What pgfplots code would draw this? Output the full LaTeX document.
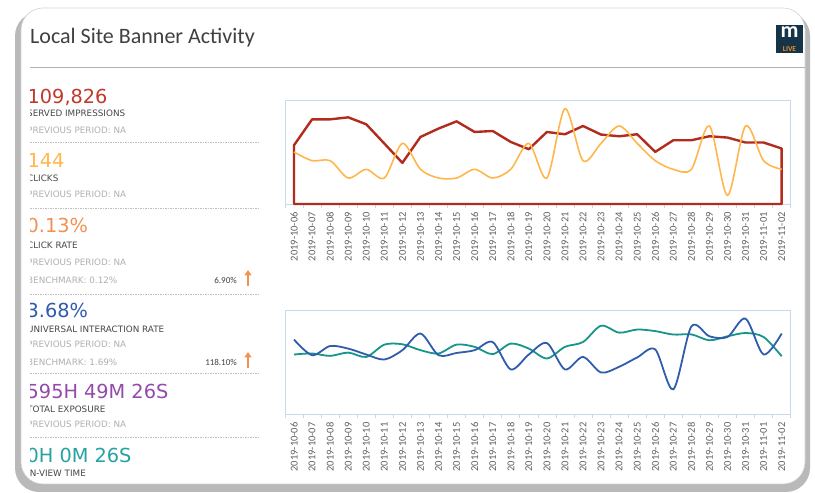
\documentclass[border=0pt]{standalone}
\usepackage{fontspec}
\setmainfont{Carlito}
\newfontfamily\numfont{DejaVu Sans}
\usepackage{pgfplots}
\pgfplotsset{compat=1.18}
\usetikzlibrary{arrows.meta}

\definecolor{impcol}{RGB}{178,44,30}
\definecolor{imptxt}{RGB}{192,57,43}
\definecolor{clkcol}{RGB}{255,183,77}
\definecolor{ratecol}{RGB}{242,145,80}
\definecolor{bluecol}{RGB}{47,92,172}
\definecolor{tealcol}{RGB}{22,150,138}
\definecolor{tealtxt}{RGB}{38,162,160}
\definecolor{purpcol}{RGB}{148,74,170}
\definecolor{labcol}{RGB}{70,70,70}
\definecolor{prevcol}{RGB}{176,176,176}
\definecolor{framecol}{RGB}{198,217,241}
\definecolor{gridcol}{RGB}{236,232,234}
\definecolor{titlecol}{RGB}{64,64,64}
\definecolor{ticklab}{RGB}{96,96,96}
\definecolor{logocol}{RGB}{22,52,72}
\definecolor{logoorange}{RGB}{240,140,40}

\newcommand\bignum{\numfont\fontsize{19.3}{19.3}\selectfont}
\newcommand\lab{\numfont\fontsize{8.8}{8.8}\selectfont}

\pgfplotsset{
  daychart/.style={
    scale only axis, width=505.7pt, height=104pt,
    xmin=-0.5, xmax=27.5, ymin=0,
    axis line style={framecol, line width=0.8pt},
    xtick={0,...,27},
    xticklabels={2019-10-06,2019-10-07,2019-10-08,2019-10-09,2019-10-10,2019-10-11,2019-10-12,2019-10-13,2019-10-14,2019-10-15,2019-10-16,2019-10-17,2019-10-18,2019-10-19,2019-10-20,2019-10-21,2019-10-22,2019-10-23,2019-10-24,2019-10-25,2019-10-26,2019-10-27,2019-10-28,2019-10-29,2019-10-30,2019-10-31,2019-11-01,2019-11-02},
    major tick length=0pt, minor tick length=4pt,
    minor xtick={-0.5,0.5,...,27.5},
    ytick=\empty,
    tick pos=left, tick align=outside,
    minor tick style={framecol, line width=0.6pt},
    xticklabel style={rotate=90, anchor=east, font=\fontsize{10.5}{10.5}\selectfont, text=ticklab, inner sep=0pt},
    xticklabel shift=8pt,
    yminorgrids, minor grid style={gridcol, line width=0.7pt},
    clip=false,
  }
}

\begin{document}
\begin{tikzpicture}[x=1pt,y=1pt]
\path[use as bounding box] (0,0) rectangle (815,493);
\fill[white] (0,0) rectangle (815,493);
% card with shadow
\fill[gray!55, rounded corners=24pt] (15,1) rectangle (810,481);
\fill[white, rounded corners=22pt] (21,9) rectangle (805,485);
\draw[gray!35, line width=0.6pt, rounded corners=22pt] (21,9) rectangle (805,485);

% header
\node[anchor=base west, inner sep=0pt, font=\fontsize{22}{22}\selectfont, text=titlecol] at (30,449) {Local Site Banner Activity};
\draw[gray!60, line width=1pt] (30,425) -- (805,425);
\fill[logocol] (776,440) rectangle (803,468);
\node[anchor=base, font=\bfseries\fontsize{22}{22}\selectfont, white, inner sep=0pt, text height=0.47em, text depth=0pt] at (789.5,455) {m};
\node[anchor=base, font=\bfseries\fontsize{7.5}{7.5}\selectfont, logoorange, inner sep=0pt, text height=0.64em, text depth=0pt] at (789.5,441) {LIVE};

% left panel
\begin{scope}
\clip (30,0) rectangle (300,420);
\begin{scope}[every node/.style={anchor=base west, inner sep=0pt}]
\node[text=imptxt] at (27.5,389) {\bignum 109,826};
\node[text=labcol] at (27,376) {\lab SERVED IMPRESSIONS};
\node[text=prevcol] at (27,359) {\lab PREVIOUS PERIOD: NA};

\node[text=clkcol] at (27.5,325) {\bignum 144};
\node[text=labcol] at (27,311) {\lab CLICKS};
\node[text=prevcol] at (27,295) {\lab PREVIOUS PERIOD: NA};

\node[text=ratecol] at (26.5,260) {\bignum 0.13\%};
\node[text=labcol] at (27,244) {\lab CLICK RATE};
\node[text=prevcol] at (27,227) {\lab PREVIOUS PERIOD: NA};
\node[text=prevcol] at (27,209) {\lab BENCHMARK: 0.12\%};

\node[text=bluecol] at (26.5,175) {\bignum 3.68\%};
\node[text=labcol] at (27,160) {\lab UNIVERSAL INTERACTION RATE};
\node[text=prevcol] at (27,145) {\lab PREVIOUS PERIOD: NA};
\node[text=prevcol] at (27,127) {\lab BENCHMARK: 1.69\%};

\node[text=purpcol] at (26.5,94) {\bignum 595H 49M 26S};
\node[text=labcol] at (27,80) {\lab TOTAL EXPOSURE};
\node[text=prevcol] at (27,65) {\lab PREVIOUS PERIOD: NA};

\node[text=tealtxt] at (26.5,30) {\bignum 0H 0M 26S};
\node[text=labcol] at (27,16) {\lab IN-VIEW TIME};
\end{scope}
\foreach \yy in {351,285,199,120,56}
  \draw[gray!50, dash pattern=on 1.5pt off 1pt, line width=0.6pt] (25,\yy) -- (258,\yy);
\end{scope}
\node[anchor=base east, inner sep=0pt, text=titlecol, font=\fontsize{9}{9}\selectfont] at (237,209) {6.90\%};
\draw[ratecol, line width=2pt, -{Triangle[width=7pt,length=5.5pt]}] (248,207) -- (248,223);
\node[anchor=base east, inner sep=0pt, text=titlecol, font=\fontsize{9}{9}\selectfont] at (237,127) {118.10\%};
\draw[ratecol, line width=2pt, -{Triangle[width=7pt,length=5.5pt]}] (248,125) -- (248,141);

% top chart: impressions (left scale) and clicks (right scale)
\begin{axis}[daychart, at={(285pt,289pt)}, anchor=south west, ymax=6000,
  minor ytick={0,1000,...,6000}]
\addplot[impcol, line width=2.4pt, line join=round] coordinates {
(0,3391) (1,4885) (2,4885) (3,5000) (4,4598) (5,3489) (6,2374) (7,3868)
(8,4351) (9,4770) (10,4155) (11,4213) (12,3580) (13,3161) (14,4155)
(15,4023) (16,4500) (17,4006) (18,3908) (19,4023) (20,3006) (21,3678)
(22,3678) (23,3908) (24,3833) (25,3546) (26,3546) (27,3201)} \closedcycle;
\end{axis}
\begin{axis}[scale only axis, width=505.7pt, height=104pt, at={(285pt,289pt)}, anchor=south west,
  xmin=-0.5, xmax=27.5, ymin=0, ymax=12, hide axis, clip=false]
\addplot[clkcol, line width=1.6pt, smooth, tension=0.5] coordinates {
(0,6) (1,5) (2,5) (3,3) (4,4) (5,3) (6,7) (7,4) (8,3) (9,3) (10,4) (11,3)
(12,4) (13,7) (14,3) (15,11) (16,5) (17,7) (18,9) (19,7) (20,5) (21,4)
(22,4) (23,9) (24,1) (25,9) (26,5) (27,4)};
\end{axis}

% bottom chart: interaction rate and in-view time
\begin{axis}[daychart, at={(285pt,78.7pt)}, anchor=south west, ymax=6,
  minor ytick={0,1,...,6}]
\addplot[tealcol, line width=1.8pt, smooth, tension=0.5] coordinates {
(0,3.45) (1,3.51) (2,3.37) (3,3.56) (4,3.31) (5,4.02) (6,4.04) (7,3.70)
(8,3.51) (9,4.02) (10,3.89) (11,3.47) (12,4.08) (13,3.79) (14,3.22)
(15,3.89) (16,4.17) (17,5.11) (18,4.71) (19,4.89) (20,4.80) (21,4.60)
(22,4.61) (23,4.27) (24,4.50) (25,4.69) (26,4.46) (27,3.35)};
\addplot[bluecol, line width=1.8pt, smooth, tension=0.5] coordinates {
(0,4.31) (1,3.41) (2,3.94) (3,3.79) (4,3.45) (5,3.16) (6,3.70) (7,4.66)
(8,3.41) (9,3.54) (10,3.70) (11,4.17) (12,2.59) (13,3.45) (14,4.11)
(15,2.59) (16,3.31) (17,2.41) (18,2.74) (19,3.28) (20,3.74) (21,1.44)
(22,5.07) (23,4.50) (24,4.46) (25,5.52) (26,3.45) (27,4.66)};
\end{axis}
\end{tikzpicture}
\end{document}
